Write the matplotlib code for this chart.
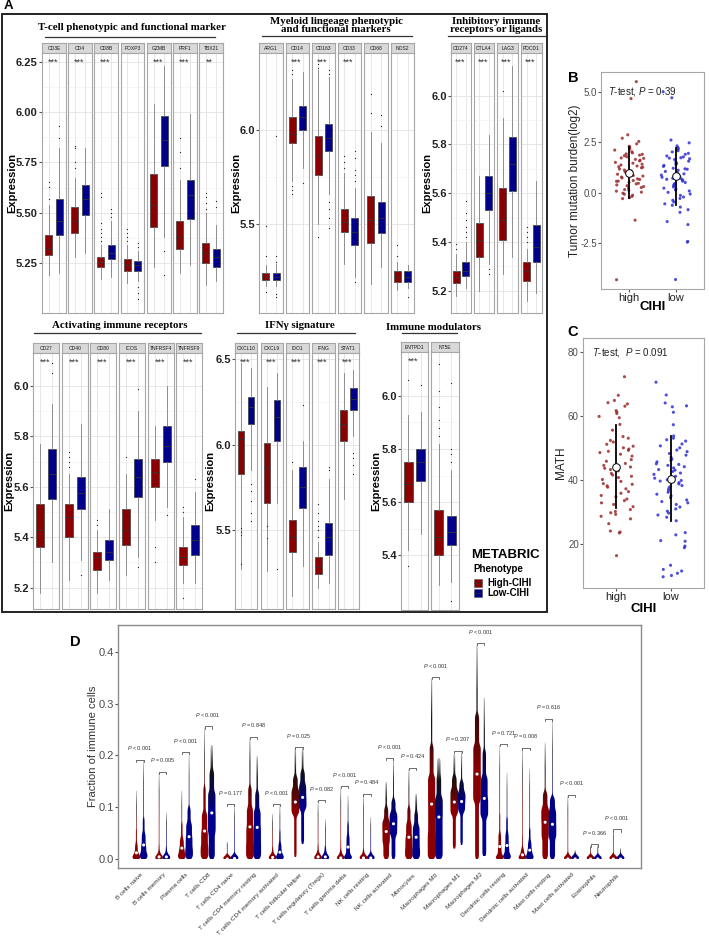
import numpy as np
import matplotlib
matplotlib.use("Agg")
import matplotlib.pyplot as plt
from matplotlib.patches import Rectangle, Polygon
from matplotlib.colors import LinearSegmentedColormap

plt.rcParams["font.family"] = ["Liberation Sans", "DejaVu Sans"]
plt.rcParams["mathtext.fontset"] = "custom"
plt.rcParams["mathtext.rm"] = "Liberation Sans"
plt.rcParams["mathtext.it"] = "Liberation Sans:italic"
plt.rcParams["mathtext.bf"] = "Liberation Sans:bold"

RED = "#8b0000"
BLUE = "#00008b"

# ---------------- panel A: box stats [whislo, q1, med, q3, whishi] ----------------
tcell_genes = ["CD3E", "CD4", "CD8B", "FOXP3", "GZMB", "PRF1", "TBX21"]
tcell_sig = ["***", "***", "***", "", "***", "***", "**"]
tcell_high = [[5.19, 5.29, 5.32, 5.39, 5.54], [5.28, 5.40, 5.46, 5.53, 5.67],
              [5.17, 5.23, 5.255, 5.28, 5.34], [5.15, 5.21, 5.24, 5.27, 5.34],
              [5.23, 5.43, 5.54, 5.69, 6.04], [5.20, 5.32, 5.38, 5.46, 5.66],
              [5.14, 5.25, 5.30, 5.35, 5.50]]
tcell_low = [[5.20, 5.39, 5.46, 5.57, 5.82], [5.30, 5.49, 5.57, 5.64, 5.82],
             [5.18, 5.27, 5.30, 5.34, 5.46], [5.16, 5.21, 5.24, 5.26, 5.31],
             [5.38, 5.73, 5.86, 5.98, 6.23], [5.24, 5.47, 5.59, 5.66, 5.99],
             [5.16, 5.23, 5.28, 5.32, 5.44]]
tcell_high_out = [[5.57, 5.63, 5.65], [5.72, 5.75, 5.82, 5.83],
                  [5.36, 5.38, 5.40, 5.42, 5.45, 5.58, 5.60], [5.36, 5.38, 5.40, 5.42],
                  [], [5.72, 5.80, 5.87], [5.52, 5.55, 5.58, 5.60]]
tcell_low_out = [[5.87, 5.93], [], [5.48, 5.50, 5.52], [5.33, 5.35, 5.13, 5.10, 5.07],
                 [5.31, 5.19], [], [5.53, 5.56]]

myeloid_genes = ["ARG1", "CD14", "CD163", "CD33", "CD68", "NOS2"]
myeloid_sig = ["", "***", "***", "***", "", ""]
myeloid_high = [[5.17, 5.20, 5.22, 5.24, 5.28], [5.73, 5.93, 5.98, 6.07, 6.27],
                [5.50, 5.76, 5.86, 5.97, 6.32], [5.29, 5.46, 5.51, 5.58, 5.77],
                [5.18, 5.40, 5.52, 5.65, 5.99], [5.15, 5.19, 5.22, 5.25, 5.30]]
myeloid_low = [[5.17, 5.20, 5.22, 5.24, 5.29], [5.80, 6.00, 6.07, 6.13, 6.31],
               [5.66, 5.89, 5.96, 6.03, 6.28], [5.22, 5.39, 5.46, 5.53, 5.69],
               [5.27, 5.45, 5.53, 5.62, 5.93], [5.16, 5.19, 5.22, 5.25, 5.28]]
myeloid_high_out = [[5.33, 5.49, 5.14], [6.30, 6.32, 5.70, 5.68, 5.66], [6.33, 6.35, 5.43],
                    [5.80, 5.83, 5.86], [6.09, 6.19], [5.33, 5.39]]
myeloid_low_out = [[5.30, 5.33, 5.97, 5.13, 5.11], [5.72], [6.30, 6.32, 5.62, 5.58, 5.53, 5.48],
                   [5.73, 5.76, 5.79, 5.85, 5.89, 5.19], [6.02, 6.08], [5.11]]

inhib_genes = ["CD274", "CTLA4", "LAG3", "PDCD1"]
inhib_sig = ["***", "***", "***", "***"]
inhib_high = [[5.18, 5.23, 5.255, 5.28, 5.35], [5.20, 5.34, 5.41, 5.48, 5.67],
              [5.27, 5.41, 5.49, 5.62, 5.91], [5.16, 5.24, 5.28, 5.32, 5.37]]
inhib_low = [[5.21, 5.26, 5.28, 5.32, 5.40], [5.31, 5.53, 5.60, 5.67, 5.84],
             [5.34, 5.61, 5.72, 5.83, 6.12], [5.19, 5.32, 5.38, 5.47, 5.65]]
inhib_high_out = [[5.37, 5.39], [], [6.02], [5.40, 5.42, 5.44, 5.46]]
inhib_low_out = [[5.42, 5.44, 5.46, 5.49, 5.52, 5.57], [5.27, 5.29], [], []]

activ_genes = ["CD27", "CD40", "CD80", "ICOS", "TNFRSF4", "TNFRSF9"]
activ_sig = ["***", "***", "***", "***", "***", "***"]
activ_high = [[5.18, 5.36, 5.43, 5.53, 5.77], [5.23, 5.40, 5.48, 5.53, 5.65],
              [5.18, 5.27, 5.32, 5.34, 5.43], [5.25, 5.37, 5.43, 5.51, 5.65],
              [5.47, 5.60, 5.66, 5.71, 5.84], [5.22, 5.29, 5.32, 5.36, 5.48]]
activ_low = [[5.30, 5.55, 5.65, 5.75, 5.93], [5.31, 5.51, 5.575, 5.64, 5.85],
             [5.23, 5.31, 5.34, 5.39, 5.51], [5.32, 5.56, 5.64, 5.71, 5.90],
             [5.52, 5.70, 5.76, 5.84, 6.00], [5.22, 5.33, 5.39, 5.45, 5.58]]
activ_high_out = [[], [5.68, 5.70, 5.72, 5.74], [5.45, 5.47], [5.72], [5.36, 5.30],
                  [5.50, 5.52, 5.16]]
activ_low_out = [[6.05, 6.09], [5.25], [], [5.28, 5.99], [5.49], [5.63]]

ifng_genes = ["CXCL10", "CXCL9", "IDO1", "IFNG", "STAT1"]
ifng_sig = ["***", "***", "***", "***", "***"]
ifng_high = [[5.27, 5.83, 6.03, 6.08, 6.48], [5.26, 5.66, 5.86, 6.01, 6.34],
             [5.11, 5.37, 5.46, 5.56, 5.85], [5.16, 5.24, 5.28, 5.34, 5.43],
             [5.68, 6.02, 6.12, 6.20, 6.42]]
ifng_low = [[5.85, 6.12, 6.22, 6.28, 6.45], [5.66, 6.02, 6.16, 6.26, 6.42],
            [5.29, 5.63, 5.75, 5.87, 6.02], [5.19, 5.35, 5.46, 5.54, 5.80],
            [6.05, 6.20, 6.27, 6.33, 6.44]]
ifng_high_out = [[5.47, 5.49, 5.51, 5.30], [5.45, 5.52], [5.90],
                 [5.46, 5.50, 5.52, 5.55, 5.60, 5.65], []]
ifng_low_out = [[5.77, 5.73, 5.67, 5.60, 5.55], [5.27], [6.23], [5.85, 5.87],
                [5.95, 5.92, 5.88, 5.83]]

modul_genes = ["ENTPD1", "NT5E"]
modul_sig = ["***", ""]
modul_high = [[5.42, 5.60, 5.67, 5.75, 5.93], [5.29, 5.40, 5.47, 5.57, 5.82]]
modul_low = [[5.48, 5.68, 5.75, 5.80, 5.94], [5.30, 5.44, 5.49, 5.55, 5.72]]
modul_high_out = [[5.36, 6.06], [5.85, 5.88, 5.91, 5.96, 6.02, 6.12]]
modul_low_out = [[6.04], [5.75, 5.78, 5.80, 6.05, 5.23]]

# ---------------- panel B / C: per-sample values and mean / sd ----------------
tmb_high = [5.52, 4.68, 2.88, 2.71, 2.55, 2.43, 2.31, 2.27, 2.18, 2.12, 2.04, 1.98, 1.93,
            1.87, 1.84, 1.79, 1.73, 1.71, 1.66, 1.62, 1.58, 1.51, 1.47, 1.42, 1.38, 1.33,
            1.29, 1.24, 1.18, 1.13, 1.09, 1.04, 0.99, 0.97, 0.92, 0.86, 0.83, 0.78, 0.74,
            0.69, 0.66, 0.61, 0.57, 0.52, 0.47, 0.44, 0.39, 0.35, 0.31, 0.26, 0.22, 0.16,
            0.12, 0.08, 0.03, -0.02, -0.07, -0.12, -0.18, -0.24, -0.29, 1.91, 1.27, 0.58,
            -1.36, -4.32]
tmb_low = [5.02, 4.72, 2.62, 2.48, 2.33, 2.24, 2.21, 2.16, 2.09, 2.03, 1.96, 1.91, 1.83,
           1.78, 1.74, 1.69, 1.65, 1.57, 1.52, 1.46, 1.41, 1.36, 1.31, 1.22, 1.17, 1.12,
           1.06, 1.01, 0.94, 0.88, 0.81, 0.77, 0.72, 0.67, 0.63, 0.58, 0.51, 0.46, 0.41,
           0.36, 0.29, 0.23, 0.18, 0.14, 0.09, 0.02, -0.06, -0.13, -0.21, -0.28, -0.37,
           -0.46, -0.55, -0.62, -0.71, -0.84, -0.97, -1.43, -1.58, -2.42, -2.45, -4.31,
           1.72, 1.19, 0.69]
tmb_mean = [1.00, 0.82]
tmb_sd = [1.28, 1.42]

math_high = [72.3, 66.5, 64.9, 64.2, 63.8, 63.1, 61.7, 61.3, 60.8, 59.9, 59.5, 57.4, 55.6,
             53.1, 52.4, 51.9, 51.2, 50.6, 50.1, 49.7, 49.3, 48.6, 48.1, 46.4, 45.9, 45.2,
             44.6, 44.1, 43.7, 43.3, 42.9, 42.1, 41.6, 40.8, 40.2, 39.6, 38.7, 38.2, 37.8,
             37.3, 36.4, 35.9, 35.2, 34.8, 34.1, 33.6, 32.9, 32.4, 31.7, 30.8, 30.2, 29.8,
             29.3, 28.7, 27.9, 26.4, 24.1, 23.8, 23.5, 16.4, 49.0, 41.2, 47.5, 38.9, 53.6]
math_low = [70.6, 66.6, 64.1, 63.2, 62.9, 61.2, 57.3, 53.8, 53.1, 52.6, 52.2, 51.3, 50.7,
            50.1, 49.4, 48.9, 48.3, 47.8, 47.1, 46.6, 46.2, 45.7, 45.1, 44.6, 44.2, 43.8,
            43.3, 42.7, 42.2, 41.8, 41.2, 40.6, 40.1, 39.7, 39.2, 38.8, 38.3, 37.9, 37.4,
            36.8, 36.2, 35.6, 35.1, 34.5, 33.8, 33.3, 32.9, 32.4, 31.6, 31.0, 30.3, 29.7,
            29.1, 28.4, 27.3, 23.6, 22.9, 21.1, 20.9, 19.4, 18.9, 13.4, 12.1, 11.6, 10.9,
            10.2, 9.8, 44.9, 39.9, 43.1]
math_mean = [44.2, 40.5]
math_sd = [12.9, 13.4]

# ---------------- panel D: quantiles (0, 25, 50, 75, 90, 100 %) ----------------
cell_types = ["B cells naive", "B cells memory", "Plasma cells", "T cells CD8",
              "T cells CD4 naive", "T cells CD4 memory resting",
              "T cells CD4 memory activated", "T cells follicular helper",
              "T cells regulatory (Tregs)", "T cells gamma delta", "NK cells resting",
              "NK cells activated", "Monocytes", "Macrophages M0", "Macrophages M1",
              "Macrophages M2", "Dendritic cells resting", "Dendritic cells activated",
              "Mast cells resting", "Mast cells activated", "Eosinophils", "Neutrophils"]
p_text = ["< 0.001", "= 0.005", "< 0.001", "< 0.001", "= 0.177", "= 0.848", "< 0.001",
          "= 0.025", "= 0.082", "< 0.001", "= 0.484", "< 0.001", "= 0.424", "< 0.001",
          "= 0.207", "< 0.001", "= 0.721", "= 0.008", "= 0.616", "< 0.001", "= 0.366",
          "< 0.001"]
q_probs = [0.0, 0.25, 0.5, 0.75, 0.9, 1.0]
frac_high = [[0, 0.003, 0.012, 0.030, 0.060, 0.132], [0, 0.0, 0.004, 0.012, 0.030, 0.167],
             [0, 0.008, 0.021, 0.040, 0.070, 0.132], [0, 0.025, 0.054, 0.090, 0.140, 0.254],
             [0, 0.0, 0.0, 0.0, 0.002, 0.033], [0, 0.030, 0.062, 0.100, 0.140, 0.234],
             [0, 0.0, 0.003, 0.010, 0.025, 0.087], [0.003, 0.085, 0.110, 0.135, 0.160, 0.214],
             [0, 0.0, 0.004, 0.012, 0.030, 0.112], [0, 0.0, 0.002, 0.015, 0.040, 0.139],
             [0, 0.0, 0.002, 0.008, 0.020, 0.124], [0, 0.030, 0.053, 0.075, 0.100, 0.149],
             [0, 0.020, 0.042, 0.070, 0.100, 0.174], [0, 0.050, 0.106, 0.160, 0.220, 0.349],
             [0.02, 0.085, 0.110, 0.135, 0.160, 0.203], [0, 0.110, 0.164, 0.220, 0.280, 0.415],
             [0, 0.005, 0.024, 0.050, 0.090, 0.220], [0, 0.0, 0.008, 0.020, 0.050, 0.213],
             [0, 0.040, 0.071, 0.100, 0.130, 0.225], [0, 0.0, 0.0, 0.004, 0.015, 0.122],
             [0, 0.0, 0.0, 0.0, 0.001, 0.026], [0, 0.0, 0.0, 0.002, 0.008, 0.055]]
frac_low = [[0, 0.010, 0.027, 0.050, 0.080, 0.190], [0, 0.0, 0.004, 0.010, 0.025, 0.090],
            [0, 0.020, 0.043, 0.070, 0.100, 0.204], [0, 0.050, 0.089, 0.130, 0.170, 0.220],
            [0, 0.0, 0.001, 0.004, 0.012, 0.104], [0, 0.030, 0.061, 0.095, 0.130, 0.199],
            [0, 0.003, 0.013, 0.030, 0.055, 0.104], [0.029, 0.095, 0.119, 0.145, 0.170, 0.214],
            [0, 0.0, 0.004, 0.012, 0.025, 0.077], [0, 0.005, 0.023, 0.045, 0.070, 0.122],
            [0, 0.0, 0.002, 0.006, 0.015, 0.081], [0, 0.045, 0.068, 0.090, 0.115, 0.193],
            [0, 0.020, 0.042, 0.065, 0.090, 0.126], [0, 0.040, 0.081, 0.120, 0.160, 0.195],
            [0.027, 0.090, 0.111, 0.130, 0.150, 0.207], [0.005, 0.080, 0.117, 0.160, 0.210, 0.312],
            [0, 0.008, 0.026, 0.050, 0.080, 0.167], [0, 0.005, 0.017, 0.035, 0.060, 0.175],
            [0, 0.040, 0.067, 0.095, 0.120, 0.269], [0, 0.0, 0.0, 0.002, 0.005, 0.017],
            [0, 0.0, 0.0, 0.0, 0.001, 0.026], [0, 0.0, 0.0, 0.001, 0.004, 0.021]]

# ---------------- figure ----------------
W, H = 709, 938
fig = plt.figure(figsize=(W / 100, H / 100), dpi=100)
canvas = fig.add_axes([0, 0, 1, 1])
canvas.set_xlim(0, W)
canvas.set_ylim(H, 0)
canvas.axis("off")


def px_axes(x0, y0, x1, y1):
    return fig.add_axes([x0 / W, 1 - y1 / H, (x1 - x0) / W, (y1 - y0) / H])


def facet_group(genes, sig, hi, lo, hi_out, lo_out, cols, top, bottom, ylim, yticks, fmt,
                ylab_x):
    for i, gene in enumerate(genes):
        x0, x1 = cols[i]
        st = px_axes(x0, top, x1, top + 10)
        st.set_facecolor("#d9d9d9")
        st.set_xticks([])
        st.set_yticks([])
        for s in st.spines.values():
            s.set_color("#a6a6a6")
            s.set_linewidth(0.8)
        st.text(0.5, 0.45, gene, ha="center", va="center", fontsize=3.6, color="#1a1a1a",
                transform=st.transAxes)

        ax = px_axes(x0, top + 10, x1, bottom)
        stats = [dict(whislo=b[0], q1=b[1], med=b[2], q3=b[3], whishi=b[4], fliers=o)
                 for b, o in ((hi[i], hi_out[i]), (lo[i], lo_out[i]))]
        parts = ax.bxp(stats, positions=[1, 2], widths=0.68, patch_artist=True,
                       showcaps=False,
                       boxprops=dict(edgecolor="#3a3a3a", linewidth=0.5),
                       medianprops=dict(color="#333333", linewidth=0.6),
                       whiskerprops=dict(color="#808080", linewidth=0.6),
                       flierprops=dict(marker="o", markersize=0.9, markerfacecolor="#222222",
                                       markeredgecolor="none"))
        for patch, c in zip(parts["boxes"], (RED, BLUE)):
            patch.set_facecolor(c)
        ax.set_xlim(0.4, 2.6)
        ax.set_ylim(*ylim)
        ax.set_xticks([1, 2])
        ax.set_xticklabels([])
        ax.set_yticks(yticks)
        minor = [(a + b) / 2 for a, b in zip(yticks[:-1], yticks[1:])]
        ax.set_yticks(minor, minor=True)
        ax.grid(which="major", color="#e3e3e3", linewidth=0.6)
        ax.grid(which="minor", axis="y", color="#f0f0f0", linewidth=0.4)
        ax.set_axisbelow(True)
        ax.tick_params(axis="x", length=0)
        ax.tick_params(axis="y", which="minor", length=0)
        for s in ax.spines.values():
            s.set_color("#a6a6a6")
            s.set_linewidth(0.8)
        if i == 0:
            ax.set_yticklabels([fmt.format(t) for t in yticks], fontsize=8,
                               fontweight="bold", color="#222222")
            ax.tick_params(axis="y", length=2, pad=1, color="#555555")
        else:
            ax.set_yticklabels([])
            ax.tick_params(axis="y", length=0)
        ax.text(0.45, 1 - 9.0 / (bottom - top - 10), sig[i], transform=ax.transAxes,
                ha="center", va="center", fontsize=6.5, color="#333333")
    canvas.text(ylab_x, (top + 10 + bottom) / 2, "Expression", rotation=90, ha="center",
                va="center", fontsize=8, fontweight="bold")


def group_title(text, cx, cy, x0, x1, uy):
    canvas.text(cx, cy, text, ha="center", va="center", fontsize=7.8, fontweight="bold",
                family="Liberation Serif", linespacing=0.95)
    canvas.plot([x0, x1], [uy, uy], color="#333333", lw=0.9)


# panel A frame and label
canvas.add_patch(Rectangle((1.5, 14), 545.5, 598, fill=False, edgecolor="#222222", lw=1.4))
canvas.text(8, 6, "A", ha="center", va="center", fontsize=9.5, fontweight="bold")

group_title("T-cell phenotypic and functional marker", 132, 28, 45, 215, 37)
facet_group(tcell_genes, tcell_sig, tcell_high, tcell_low, tcell_high_out, tcell_low_out,
            [(42, 66), (68, 92), (94, 118), (121, 144), (147, 171), (173, 197), (199, 223)],
            43, 313, (5.0, 6.295), [5.25, 5.5, 5.75, 6.0, 6.25], "{:.2f}", 12)

group_title("Myeloid lingeage phenotypic\nand functional markers", 336, 25.5, 262, 412, 36.5)
facet_group(myeloid_genes, myeloid_sig, myeloid_high, myeloid_low, myeloid_high_out,
            myeloid_low_out,
            [(259, 283), (286, 309), (312, 335), (338, 361), (364, 388), (391, 414)],
            43, 313, (5.027, 6.41), [5.5, 6.0], "{:.1f}", 236)

group_title("Inhibitory immune\nreceptors or ligands", 496, 25.5, 448, 545, 36.5)
facet_group(inhib_genes, inhib_sig, inhib_high, inhib_low, inhib_high_out, inhib_low_out,
            [(451, 471), (474, 494), (497, 518), (521, 542)],
            43, 313, (5.109, 6.175), [5.2, 5.4, 5.6, 5.8, 6.0], "{:.1f}", 427)

group_title("Activating immune receptors", 120, 325, 34, 201, 333)
facet_group(activ_genes, activ_sig, activ_high, activ_low, activ_high_out, activ_low_out,
            [(33, 59), (62, 88), (90, 116), (119, 145), (148, 174), (176, 202)],
            343, 609, (5.115, 6.131), [5.2, 5.4, 5.6, 5.8, 6.0], "{:.1f}", 9)

group_title("IFNγ signature", 300, 325, 237, 355, 333)
facet_group(ifng_genes, ifng_sig, ifng_high, ifng_low, ifng_high_out, ifng_low_out,
            [(235, 257), (261, 283), (286, 309), (312, 335), (338, 359)],
            343, 609, (5.036, 6.537), [5.5, 6.0, 6.5], "{:.1f}", 210)

group_title("Immune modulators", 434, 327, 402, 457, 333)
facet_group(modul_genes, modul_sig, modul_high, modul_low, modul_high_out, modul_low_out,
            [(401, 428), (431, 459)],
            342, 610, (5.195, 6.165), [5.4, 5.6, 5.8, 6.0], "{:.1f}", 376)

# panel A legend
canvas.text(471, 555, "METABRIC", ha="left", va="center", fontsize=9.5, fontweight="bold")
canvas.text(473, 569, "Phenotype", ha="left", va="center", fontsize=7, fontweight="bold")
for k, (lab, c) in enumerate((("High-CIHI", RED), ("Low-CIHI", BLUE))):
    yy = 583 + k * 10.5
    canvas.add_patch(Rectangle((474, yy - 4), 8, 8, facecolor=c, edgecolor="#555555", lw=0.4))
    canvas.plot([474, 482], [yy, yy], color="#333333", lw=0.5)
    canvas.text(487, yy, lab, ha="left", va="center", fontsize=7, fontweight="bold")


# ---------------- panels B and C ----------------
def jitter(n, seed):
    # deterministic horizontal jitter (layout only), like geom_jitter
    h = np.sin((np.arange(n) + 1) * 12.9898 + seed * 78.233) * 43758.5453
    return (h - np.floor(h) - 0.5) * 0.64


def scatter_panel(rect, high, low, mean, sd, ylim, yticks, ylabels, ylabel, ylab_x, ptext,
                  pxy, letter, letter_xy, xlab_y):
    ax = px_axes(*rect)
    for k, (vals, c) in enumerate(((high, "#9b2a2a"), (low, "#2f2fd6"))):
        vals = np.asarray(vals, dtype=float)
        ax.scatter(k + 1 + jitter(len(vals), k + 1), vals, s=5, color=c, alpha=0.85,
                   edgecolors="none", zorder=2)
        ax.plot([k + 1, k + 1], [mean[k] - sd[k], mean[k] + sd[k]], color="black", lw=1.3,
                zorder=3)
        ax.plot(k + 1, mean[k], "o", ms=5.5, mfc="white", mec="black", mew=0.7, zorder=4)
    ax.set_xlim(0.4, 2.6)
    ax.set_ylim(*ylim)
    ax.set_xticks([1, 2])
    ax.set_xticklabels(["high", "low"], fontsize=8, color="#222222")
    ax.set_yticks(yticks)
    ax.set_yticklabels(ylabels, fontsize=7, color="#4d4d4d")
    ax.tick_params(length=2, pad=1, color="#555555")
    for s in ax.spines.values():
        s.set_color("#a6a6a6")
        s.set_linewidth(0.8)
    ax.text(pxy[0], pxy[1], ptext, transform=ax.transAxes, ha="left", va="center",
            fontsize=7, color="#222222")
    x0, y0, x1, y1 = rect
    canvas.text(ylab_x, (y0 + y1) / 2, ylabel, rotation=90, ha="center", va="center",
                fontsize=8.5, color="#222222")
    canvas.text((x0 + x1) / 2, xlab_y, "CIHI", ha="center", va="center", fontsize=9.5,
                fontweight="bold")
    canvas.text(letter_xy[0], letter_xy[1], letter, ha="center", va="center", fontsize=10.5,
                fontweight="bold")


scatter_panel((601, 72, 704, 289), tmb_high, tmb_low, tmb_mean, tmb_sd, (-4.78, 6.0),
              [-2.5, 0.0, 2.5, 5.0], ["-2.5", "0.0", "2.5", "5.0"],
              "Tumor mutation burden(log2)", 575, r"$\it{T}$-test, $\it{P}$ = 0.39",
              (0.07, 0.908), "B", (573, 78), 307)
scatter_panel((583, 338, 704, 588), math_high, math_low, math_mean, math_sd, (6.3, 84.4),
              [20, 40, 60, 80], ["20", "40", "60", "80"], "MATH", 561,
              r"$\it{T}$-test,  $\it{P}$ = 0.091", (0.075, 0.944), "C", (573, 332), 609)

# ---------------- panel D ----------------
axd = px_axes(118, 625, 641, 868)


def violin(ax, x, q, color):
    q = np.asarray(q, dtype=float)
    lo, hi = q[0], q[-1]
    yy = np.linspace(lo, hi, 300)
    dens = np.zeros_like(yy)
    for i in range(len(q) - 1):
        a = q[i]
        b = max(q[i + 1], a + 0.004)
        dens += np.where((yy >= a) & (yy <= b), (q_probs[i + 1] - q_probs[i]) / (b - a), 0.0)
    bw = 0.004
    kern = np.exp(-0.5 * ((yy[:, None] - yy[None, :]) / bw) ** 2)
    dens = kern @ dens
    half = np.maximum(dens / dens.max() * 0.17, 0.014)
    verts = np.vstack([np.column_stack([x - half, yy]),
                       np.column_stack([x + half, yy])[::-1]])
    poly = Polygon(verts, closed=True, facecolor="none", edgecolor="none")
    ax.add_patch(poly)
    cmap = LinearSegmentedColormap.from_list(
        "g", [(0, color), (0.42, color), (0.78, "#111111"), (1.0, "#bbbbbb")])
    img = ax.imshow(np.linspace(0, 1, 256)[:, None], cmap=cmap, aspect="auto",
                    origin="lower", extent=[x - 0.2, x + 0.2, lo, hi], zorder=2,
                    interpolation="bilinear")
    img.set_clip_path(poly)


for i, name in enumerate(cell_types):
    xc = i + 1
    violin(axd, xc - 0.16, frac_high[i], RED)
    violin(axd, xc + 0.16, frac_low[i], BLUE)
    axd.scatter([xc - 0.16, xc + 0.16], [frac_high[i][2], frac_low[i][2]], s=5,
                color="white", edgecolors="none", zorder=4)
    top = max(frac_high[i][-1], frac_low[i][-1]) + 0.002
    axd.plot([xc - 0.16, xc - 0.16, xc + 0.16, xc + 0.16], [top - 0.004, top, top, top - 0.004],
             color="#333333", lw=0.5, zorder=3)
    axd.text(xc, top + 0.022, r"$\it{P}$ " + p_text[i], ha="center", va="center",
             fontsize=4, color="#333333")

axd.set_xlim(0.03, 23.06)
axd.set_ylim(-0.0174, 0.452)
axd.set_xticks(range(1, len(cell_types) + 1))
axd.set_xticklabels(cell_types, rotation=45, ha="right", va="top", rotation_mode="anchor",
                    fontsize=4.6, color="#333333")
axd.tick_params(axis="x", length=0, pad=3)
axd.set_yticks([0.0, 0.1, 0.2, 0.3, 0.4])
axd.set_yticklabels(["0.0", "0.1", "0.2", "0.3", "0.4"], fontsize=8, color="#4d4d4d")
axd.tick_params(axis="y", length=2, pad=1, color="#555555")
for s in axd.spines.values():
    s.set_color("#8c8c8c")
    s.set_linewidth(1.0)

canvas.text(93, 746, "Fraction of immune cells", rotation=90, ha="center", va="center",
            fontsize=8, color="#333333")
canvas.text(75, 642, "D", ha="center", va="center", fontsize=10.5, fontweight="bold")
canvas.text(124, 635, "METABRIC", ha="left", va="center", fontsize=7.5, fontweight="bold")
for k, (lab, c) in enumerate((("Low-CIHI", BLUE), ("High-CIHI", RED))):
    yy = 650 + k * 12
    canvas.plot(127, yy, "o", ms=3.5, color=c)
    canvas.text(132, yy, lab, ha="left", va="center", fontsize=8.5, fontweight="bold", color=c)

fig.savefig("out.png", dpi=100)
